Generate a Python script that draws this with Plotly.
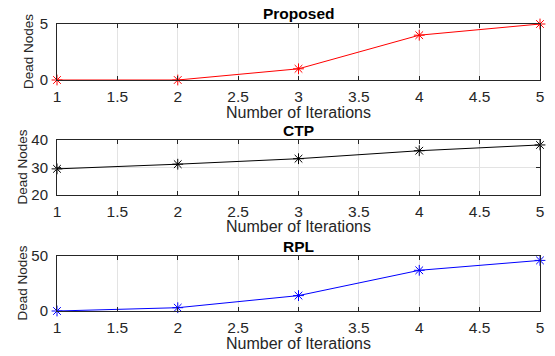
import plotly.graph_objects as go

# Data: dead nodes per iteration for each protocol
iterations = [1, 2, 3, 4, 5]
proposed_dead = [0, 0, 1, 4, 5]
ctp_dead = [29.5, 31.2, 33.2, 36.1, 38.2]
rpl_dead = [0, 3, 14, 37, 46]

titles = ["Proposed", "CTP", "RPL"]
series = [proposed_dead, ctp_dead, rpl_dead]
colors = ["#ff0000", "#000000", "#0000ff"]
y_ranges = [[0, 5], [20, 40], [0, 50]]
y_ticks = [[0, 5], [20, 30, 40], [0, 50]]
x_ticks = [1, 1.5, 2, 2.5, 3, 3.5, 4, 4.5, 5]
x_label = "Number of Iterations"
y_label = "Dead Nodes"

W, H = 555, 356
x_left, x_right = 57, 540
panels_px = [(24, 80), (140, 195), (256, 311)]  # top, bottom in pixels
ylabel_x_px = [28, 22, 22]  # label sits further out when tick labels are wider

FONT = "Liberation Sans, Arial, Helvetica, sans-serif"
TXT = "#262626"


def px_y(p):
    return 1 - p / H


fig = go.Figure()
annotations = []
for i, (name, vals, col, yr, yt, (top, bot), ylx) in enumerate(
        zip(titles, series, colors, y_ranges, y_ticks, panels_px, ylabel_x_px)):
    n = i + 1
    xa = "x" if n == 1 else f"x{n}"
    ya = "y" if n == 1 else f"y{n}"
    fig.add_trace(go.Scatter(
        x=iterations, y=vals, mode="lines+markers",
        line=dict(color=col, width=1),
        marker=dict(symbol="asterisk-open", size=9, color=col,
                    line=dict(color=col, width=1)),
        xaxis=xa, yaxis=ya, showlegend=False, cliponaxis=False))
    axis_common = dict(
        showline=True, linecolor=TXT, linewidth=1, mirror="ticks",
        ticks="inside", ticklen=4, tickcolor=TXT,
        showgrid=True, gridcolor="#e3e3e3", gridwidth=1,
        zeroline=False, automargin=False,
        tickfont=dict(family=FONT, size=15.5, color=TXT),
    )
    fig.layout[f"xaxis{'' if n == 1 else n}"] = dict(
        axis_common, domain=[x_left / W, x_right / W], range=[1, 5],
        tickvals=x_ticks, ticktext=[f"{v:g}" for v in x_ticks],
        anchor=ya, ticklabelstandoff=2)
    fig.layout[f"yaxis{'' if n == 1 else n}"] = dict(
        axis_common, domain=[px_y(bot), px_y(top)], range=yr, tickvals=yt,
        anchor=xa, ticklabelstandoff=5,
        tickfont=dict(family=FONT, size=15, color=TXT))
    cx = (x_left + x_right) / 2 / W
    # panel title
    annotations.append(dict(
        text=f"<b>{name}</b>", x=cx, y=px_y(top - 10),
        xref="paper", yref="paper", showarrow=False,
        xanchor="center", yanchor="middle",
        font=dict(family=FONT, size=15.5, color="#000000")))
    # x-axis label
    annotations.append(dict(
        text=x_label, x=cx, y=px_y(bot + 32),
        xref="paper", yref="paper", showarrow=False,
        xanchor="center", yanchor="middle",
        font=dict(family=FONT, size=16, color=TXT)))
    # y-axis label
    annotations.append(dict(
        text=y_label, x=ylx / W, y=px_y((top + bot) / 2), textangle=-90,
        xref="paper", yref="paper", showarrow=False,
        xanchor="center", yanchor="middle",
        font=dict(family=FONT, size=13.5, color=TXT)))

fig.update_layout(
    width=W, height=H, margin=dict(l=0, r=0, t=0, b=0),
    paper_bgcolor="white", plot_bgcolor="white",
    annotations=annotations,
)
fig.write_html("out.html")
